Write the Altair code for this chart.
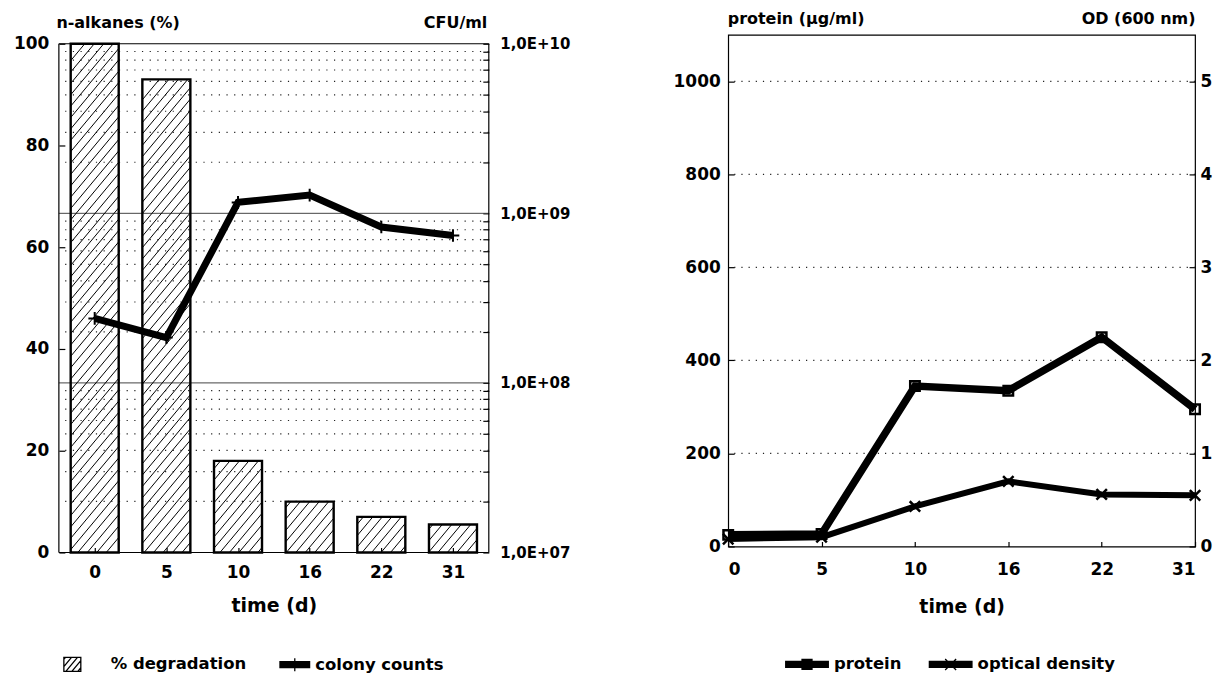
import json
import math
import altair as alt
import pandas as pd

# ---------------- data ----------------
days = ["0", "5", "10", "16", "22", "31"]
degradation = [100, 93, 18, 10, 7, 5.5]                  # n-alkanes (%)
colony = [2.4e8, 1.85e8, 1.16e9, 1.28e9, 8.3e8, 7.4e8]   # CFU/ml
protein = [25, 27, 345, 335, 450, 295]                   # µg/ml
od = [0.08, 0.10, 0.43, 0.70, 0.56, 0.55]                # OD 600 nm
pct_ticks = [0, 20, 40, 60, 80, 100]
cfu_decades = [1e7, 1e8, 1e9, 1e10]
protein_ticks = [0, 200, 400, 600, 800, 1000]
od_ticks = [0, 1, 2, 3, 4, 5]
left_legend = ["% degradation", "colony counts"]
right_legend = ["protein", "optical density"]

FONT = "DejaVu Sans"
LW, LH, TI = 431, 519, 9      # left view; data area starts TI px below the view top
PH = LH - TI
RW, RH = 468, 513
n = len(days)

# ---------------- helpers ----------------
def hatch(x0, x1, y0, y1, d, s):
    """diagonal hatch lines X = c + Y/s clipped to a rectangle (Y up)."""
    segs = []
    k = math.floor((x0 - (y1 - y0) / s) / d)
    while k * d < x1:
        c = k * d
        lo = max(y0, s * (x0 - c))
        hi = min(y1, s * (x1 - c))
        if hi - lo > 1e-6 and hi - lo > 0.02 * (y1 - y0):
            segs.append((c + lo / s, lo, c + hi / s, hi))
        k += 1
    return segs

HALF = 0.335
rows = []
for i, v in enumerate(degradation):
    X0 = (i + 0.5 - HALF) * LW / n
    X1 = (i + 0.5 + HALF) * LW / n
    Y1 = v * PH / 100.0
    for (a, b, c, d) in hatch(X0, X1, 0, Y1, 9.5, 1.2):
        rows.append({"hx1": a * n / LW, "hy1": b * 100.0 / PH,
                     "hx2": c * n / LW, "hy2": d * 100.0 / PH})
hatch_df = pd.DataFrame(rows)

# ---- legend symbol paths (unit = 10 px; stroke only) ----
bx0, bx1, by = -3.2, -1.5, 0.7
hp = f"M{bx0},{-by}H{bx1}V{by}H{bx0}Z"
for (a, b, c, d) in hatch(bx0, bx1, 0, 2 * by, 0.6, 1.2):
    hp += f"M{a:.3f},{by - b:.3f}L{c:.3f},{by - d:.3f}"

def thick_bar(x0, x1, half):
    ys = [round(-half + 0.1 * k, 2) for k in range(int(round(2 * half / 0.1)) + 1)]
    return "".join(f"M{x0},{y}H{x1}" for y in ys)

plus_path = thick_bar(-2.1, 1, 0.3) + "M-0.55,-0.65V0.65"
sq = "M-1.7,-0.5H-0.7V0.5H-1.7Z" + "".join(
    f"M-1.7,{round(-0.4 + 0.1 * k, 2)}H-0.7" for k in range(9))
prot_sym = thick_bar(-3.4, 1, 0.3) + sq
od_sym = thick_bar(-3.4, 1, 0.3) + "M-1.75,-0.55L-0.65,0.55M-1.75,0.55L-0.65,-0.55"

minor = [k * 10.0 ** e for e in (7, 8, 9) for k in range(2, 10)]
cfu_all = sorted(cfu_decades + minor)

# ---------------- left chart ----------------
left_df = pd.DataFrame({"idx": list(range(n)), "day": days,
                        "deg": degradation, "cfu": colony})
frame_df = pd.DataFrame({"y0": [pct_ticks[0]], "y1": [pct_ticks[-1]],
                         "xl": [0], "xr": [n]})
xs = alt.Scale(domain=[0, n], nice=False, zero=False)
ps = alt.Scale(domain=[0, 100], range=[LH, TI], nice=False, zero=False)
ls = alt.Scale(type="log", domain=[1e7, 1e10], range=[LH, TI], nice=False)

base_l = alt.Chart(left_df).transform_calculate(
    xc="datum.idx + 0.5", xa=f"datum.idx + {0.5 - HALF}",
    xb=f"datum.idx + {0.5 + HALF}", zero="0")

x_axis_l = alt.Axis(values=[i + 0.5 for i in range(n)],
                    labelExpr=f"{json.dumps(days)}[floor(datum.value)]",
                    title="time (d)", titleFontSize=19, titlePadding=16,
                    offset=-5, tickSize=5, domain=False, grid=False,
                    labelPadding=12, labelFontSize=17)
pct_axis = alt.Axis(orient="left", values=pct_ticks, title="n-alkanes (%)",
                    titleAngle=0, titleAlign="left", titleBaseline="middle",
                    titleX=-9, titleY=-12, titleFontSize=16,
                    offset=-6, tickSize=6, labelPadding=10, domain=False, grid=False,
                    labelFontSize=17)
cfu_axis = alt.Axis(orient="right", values=cfu_all,
                    labelExpr="abs(log(datum.value)/LN10 - round(log(datum.value)/LN10)) < 0.001 ? "
                              "'1,0E+' + (round(log(datum.value)/LN10) < 10 ? '0' : '') + "
                              "round(log(datum.value)/LN10) : ''",
                    labelOverlap=False, labelFontSize=15,
                    title="CFU/ml", titleAngle=0, titleAlign="right",
                    titleBaseline="middle", titleX=4, titleY=-12, titleFontSize=16,
                    offset=-6, tickSize=6, labelPadding=11, domain=False, grid=False)

FR = dict(stroke="black", strokeWidth=1.2)
frame_top = alt.Chart(frame_df).mark_rule(**FR).encode(y=alt.Y("y1:Q", scale=ps, axis=None))
frame_bot = alt.Chart(frame_df).mark_rule(**FR).encode(y=alt.Y("y0:Q", scale=ps, axis=None))
frame_lft = alt.Chart(frame_df).mark_rule(**FR).encode(
    x=alt.X("xl:Q", scale=xs, axis=x_axis_l),
    y=alt.Y("y0:Q", scale=ps, axis=None), y2="y1:Q")
frame_rgt = alt.Chart(frame_df).mark_rule(**FR).encode(
    x=alt.X("xr:Q", scale=xs, axis=x_axis_l),
    y=alt.Y("y0:Q", scale=ps, axis=None), y2="y1:Q")

grid_l = alt.Chart(pd.DataFrame({"v": minor})).mark_rule(
    stroke="#222", strokeWidth=1.2, strokeDash=[1.2, 6.5]).encode(
    y=alt.Y("v:Q", scale=ls, axis=None))
dec_l = alt.Chart(pd.DataFrame({"v": cfu_decades[1:-1]})).mark_rule(
    stroke="#444", strokeWidth=1).encode(y=alt.Y("v:Q", scale=ls, axis=None))
bars = base_l.mark_rect(fill="transparent", stroke="black", strokeWidth=2.4).encode(
    x=alt.X("xa:Q", scale=xs, axis=x_axis_l), x2="xb:Q",
    y=alt.Y("deg:Q", scale=ps, axis=pct_axis), y2="zero:Q")
hatch_l = alt.Chart(hatch_df).mark_rule(stroke="black", strokeWidth=1).encode(
    x=alt.X("hx1:Q", scale=xs, axis=x_axis_l), x2="hx2:Q",
    y=alt.Y("hy1:Q", scale=ps, axis=None), y2="hy2:Q")
line_l = base_l.mark_line(stroke="black", strokeWidth=7).encode(
    x=alt.X("xc:Q", scale=xs, axis=x_axis_l),
    y=alt.Y("cfu:Q", scale=ls, axis=cfu_axis))
pts_l = base_l.mark_point(shape="M-1,0H1M0,-1V1", size=160, stroke="black",
                          strokeWidth=2, filled=False, opacity=1).encode(
    x=alt.X("xc:Q", scale=xs, axis=x_axis_l),
    y=alt.Y("cfu:Q", scale=ls, axis=None))
leg_l = alt.Chart(pd.DataFrame({"series": left_legend})).transform_filter("false").mark_point(
    filled=False, stroke="black", strokeWidth=1.3, opacity=1).encode(
    shape=alt.Shape("series:N",
                    scale=alt.Scale(domain=left_legend, range=[hp, plus_path]),
                    legend=alt.Legend(title=None, orient="none", legendX=26, legendY=620,
                                      direction="horizontal", symbolSize=400,
                                      symbolStrokeWidth=1.3, symbolStrokeColor="black",
                                      symbolOpacity=1,
                                      labelFont=FONT, labelFontSize=16.5, labelFontWeight="bold",
                                      labelColor="black", columnPadding=30, labelOffset=4)))

left = alt.layer(grid_l, dec_l, frame_top, frame_bot, frame_lft, frame_rgt,
                 bars, hatch_l, line_l, pts_l, leg_l).resolve_scale(
    y="independent").properties(width=LW, height=LH,
                                view=alt.ViewBackground(stroke="transparent"))

# ---------------- right chart ----------------
right_df = pd.DataFrame({"idx": list(range(n)), "day": days,
                         "protein": protein, "od": od})
xr = alt.Scale(domain=[0, n - 1], nice=False, zero=False)
prs = alt.Scale(domain=[0, 1100], nice=False, zero=False)
ods = alt.Scale(domain=[0, 5.5], nice=False, zero=False)

x_axis_r = alt.Axis(values=list(range(n)),
                    labelExpr=f"{json.dumps(days)}[round(datum.value)]",
                    title="time (d)", titleFontSize=19, titlePadding=20,
                    offset=-5, tickSize=5, domain=False, grid=False,
                    labelPadding=15, labelFontSize=17)
prot_axis = alt.Axis(orient="left", values=protein_ticks, title="protein (µg/ml)",
                     format="d",
                     titleAngle=0, titleAlign="left", titleBaseline="middle",
                     titleX=-7, titleY=-16, titleFontSize=16,
                     offset=-6, tickSize=6, labelPadding=8, domain=False, grid=False,
                     labelFontSize=17)
od_axis = alt.Axis(orient="right", values=od_ticks, title="OD (600 nm)",
                   titleAngle=0, titleAlign="right", titleBaseline="middle",
                   titleX=6, titleY=-16, titleFontSize=16,
                   offset=-6, tickSize=6, labelPadding=5, domain=False, grid=False,
                   labelFontSize=17)

grid_r = alt.Chart(pd.DataFrame({"v": protein_ticks[1:]})).mark_rule(
    stroke="#222", strokeWidth=1.2, strokeDash=[1.2, 6]).encode(
    y=alt.Y("v:Q", scale=prs, axis=None))
base_r = alt.Chart(right_df)
prot_line = base_r.mark_line(stroke="black", strokeWidth=7.5).encode(
    x=alt.X("idx:Q", scale=xr, axis=x_axis_r),
    y=alt.Y("protein:Q", scale=prs, axis=prot_axis))
prot_pts = base_r.mark_point(shape="square", filled=False, size=90, stroke="black",
                             strokeWidth=2.5, opacity=1).encode(
    x=alt.X("idx:Q", scale=xr, axis=x_axis_r),
    y=alt.Y("protein:Q", scale=prs, axis=None))
od_line = base_r.mark_line(stroke="black", strokeWidth=6).encode(
    x=alt.X("idx:Q", scale=xr, axis=x_axis_r),
    y=alt.Y("od:Q", scale=ods, axis=od_axis))
od_pts = base_r.mark_point(shape="M-1,-1L1,1M-1,1L1,-1", size=110, stroke="black",
                           strokeWidth=2.5, filled=False, opacity=1).encode(
    x=alt.X("idx:Q", scale=xr, axis=x_axis_r),
    y=alt.Y("od:Q", scale=ods, axis=None))
leg_r = alt.Chart(pd.DataFrame({"series": right_legend})).transform_filter("false").mark_point(
    filled=False, stroke="black", strokeWidth=1.3, opacity=1).encode(
    shape=alt.Shape("series:N",
                    scale=alt.Scale(domain=right_legend, range=[prot_sym, od_sym]),
                    legend=alt.Legend(title=None, orient="none", legendX=80, legendY=620,
                                      direction="horizontal", symbolSize=400,
                                      symbolStrokeWidth=1.3, symbolStrokeColor="black",
                                      symbolOpacity=1,
                                      labelFont=FONT, labelFontSize=16.5, labelFontWeight="bold",
                                      labelColor="black", columnPadding=24, labelOffset=4)))

right = alt.layer(grid_r, prot_line, prot_pts, od_line, od_pts, leg_r).resolve_scale(
    y="independent").properties(width=RW, height=RH)

chart = alt.hconcat(left, right, spacing=102).resolve_scale(
    shape="independent").properties(
    padding={"left": 4, "top": 1, "right": 0, "bottom": 0},
    background="white",
).configure_view(stroke="black", strokeWidth=1.2).configure_axis(
    labelFont=FONT, labelFontWeight="bold", labelColor="black",
    titleFont=FONT, titleFontWeight="bold", titleColor="black",
    tickColor="black", tickWidth=1.2, domainColor="black",
).configure_legend(labelFont=FONT)

chart.save("out.html", embed_options={"renderer": "svg", "actions": False})
